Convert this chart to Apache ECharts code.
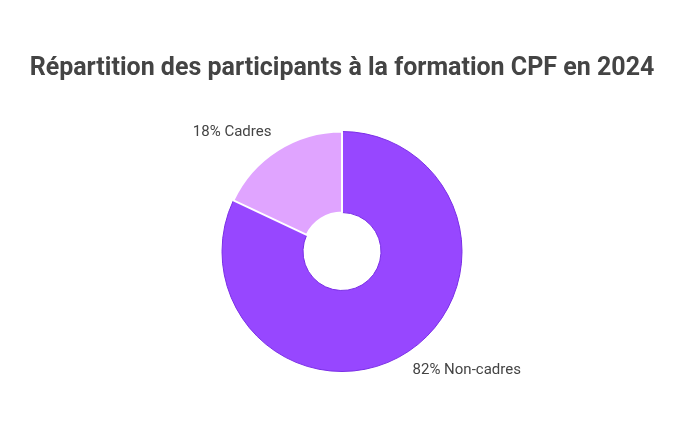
<!DOCTYPE html>
<html>
<head>
<meta charset="utf-8">
<script src="https://cdn.jsdelivr.net/npm/echarts@6/dist/echarts.min.js"></script>
<style>
html,body{margin:0;padding:0;background:#fff;}
#chart{width:684px;height:441px;}
</style>
</head>
<body>
<div id="chart"></div>
<script>
const titleText = 'Répartition des participants à la formation CPF en 2024';
const categories = ['Non-cadres', 'Cadres'];
const values = [82, 18];
const fillColors = ['#9747ff', '#e0a4ff'];
const borderColors = ['#7a2ee6', '#ffffff'];
const borderWidths = [1, 2];

const chart = echarts.init(document.getElementById('chart'), null, {renderer: 'canvas'});
chart.setOption({
  animation: false,
  title: {
    text: titleText,
    left: 'center',
    top: 51,
    textStyle: {fontFamily: 'Roboto', fontWeight: 'bold', fontSize: 25, color: '#444444'}
  },
  series: [{
    type: 'pie',
    center: [342, 251.5],
    radius: [39, 120],
    startAngle: 90,
    clockwise: true,
    avoidLabelOverlap: false,
    label: {
      show: true,
      position: 'outside',
      formatter: p => p.value + '% ' + p.name,
      fontFamily: 'Roboto',
      fontSize: 15,
      color: '#444444'
    },
    labelLine: {show: false, length: 21, length2: -10},
    emphasis: {disabled: true},
    data: categories.map((c, i) => ({
      name: c,
      value: values[i],
      itemStyle: {color: fillColors[i], borderColor: borderColors[i], borderWidth: borderWidths[i]}
    }))
  }]
});
</script>
</body>
</html>
